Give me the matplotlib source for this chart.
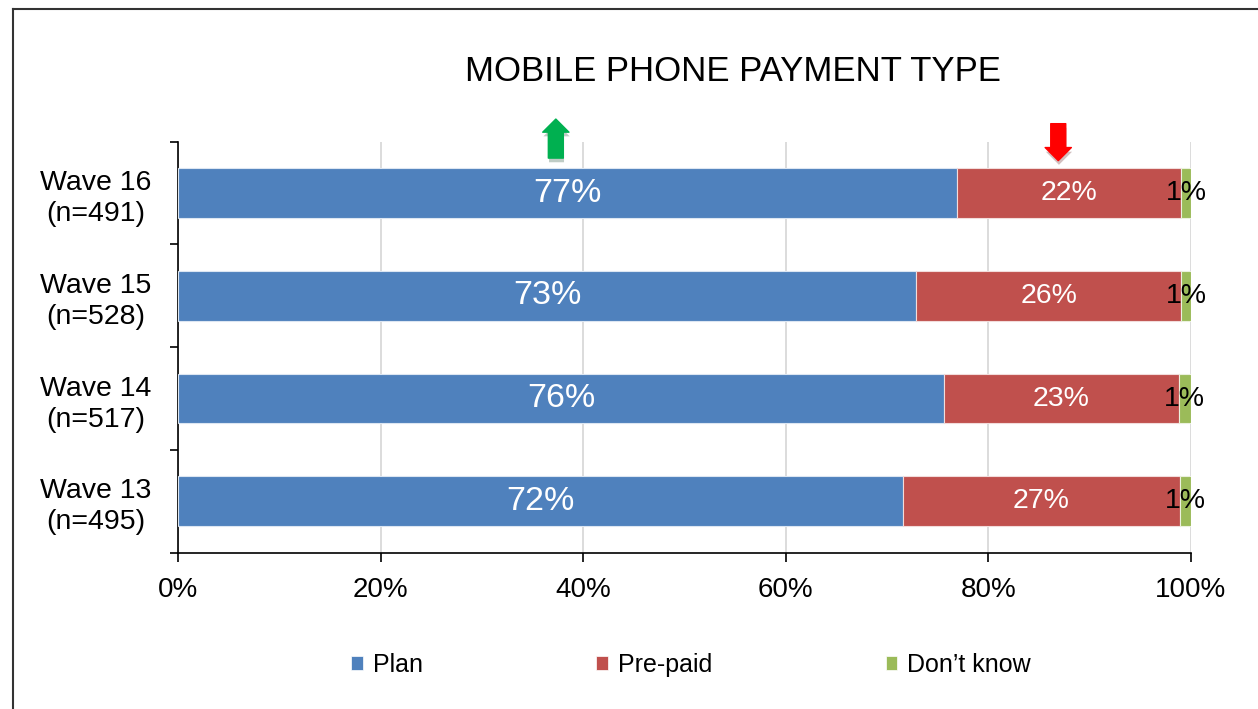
import matplotlib
matplotlib.use("Agg")
import matplotlib.pyplot as plt
import matplotlib.patheffects as pe
from matplotlib.lines import Line2D
from matplotlib.patches import Patch

plt.rcParams['font.family'] = ['Liberation Sans', 'DejaVu Sans']

# data, bottom row first
waves = ["Wave 13\n(n=495)", "Wave 14\n(n=517)", "Wave 15\n(n=528)", "Wave 16\n(n=491)"]
plan = [71.6, 75.6, 72.9, 76.9]
prepaid = [27.3, 23.2, 26.1, 22.1]
dont_know = [1.1, 1.2, 1.0, 1.0]
series_names = ["Plan", "Pre-paid", "Don\u2019t know"]
colors = ["#4F81BD", "#C0504D", "#9BBB59"]
xticks = [0, 20, 40, 60, 80, 100]

fig = plt.figure(figsize=(12.58, 7.09), dpi=100)
ax = fig.add_axes([0.1415, 0.2205, 0.8052, 0.5797])

ypos = list(range(len(waves)))
left_pre = plan
left_dk = [p + q for p, q in zip(plan, prepaid)]

ax.barh(ypos, plan, height=0.485, color=colors[0], edgecolor="#dce6f2", lw=0.8, zorder=3)
ax.barh(ypos, prepaid, left=left_pre, height=0.485, color=colors[1], edgecolor="#f2dcdb", lw=0.8, zorder=3)
ax.barh(ypos, dont_know, left=left_dk, height=0.485, color=colors[2], edgecolor="#ebf1de", lw=0.8, zorder=3)

# data labels
for i in ypos:
    ax.text(plan[i] / 2, i, "%d%%" % round(plan[i]), color="white", fontsize=24.5,
            ha="center", va="center", zorder=5)
    ax.text(left_pre[i] + prepaid[i] / 2, i, "%d%%" % round(prepaid[i]), color="white",
            fontsize=20.5, ha="center", va="center", zorder=5)
    ax.text(left_dk[i] + dont_know[i] / 2, i, "%d%%" % round(dont_know[i]), color="black",
            fontsize=20.5, ha="center", va="center", zorder=5)

ax.set_xlim(0, 100)
ax.set_ylim(-0.5, 3.5)
ax.set_xticks(xticks)
ax.set_xticklabels(["%d%%" % t for t in xticks], fontsize=20)
ax.tick_params(axis="x", direction="out", length=6.5, width=1.2, pad=11)

# category ticks sit between bars, labels in the middle
ax.set_yticks([-0.5, 0.5, 1.5, 2.5, 3.5])
ax.set_yticklabels([])
ax.set_yticks(ypos, minor=True)
ax.set_yticklabels(waves, minor=True, fontsize=20.5, linespacing=1.25)
ax.tick_params(axis="y", which="major", direction="out", length=6, width=1.2)
ax.tick_params(axis="y", which="minor", length=0, pad=19)
for lab in ax.get_yticklabels(minor=True):
    lab.set_multialignment("center")

ax.grid(axis="x", color="#d9d9d9", lw=1.3, zorder=0)
ax.set_axisbelow(True)
for s in ["top", "right"]:
    ax.spines[s].set_visible(False)
ax.spines["left"].set_linewidth(1.2)
ax.spines["bottom"].set_linewidth(1.2)

# change arrows
shadow = [pe.SimplePatchShadow(offset=(0.5, -3), alpha=0.25), pe.Normal()]
arr_style = "simple,head_length=0.7,head_width=1.4,tail_width=0.8"
a1 = ax.annotate("", xy=(37.3, 3.72), xytext=(37.3, 3.34), annotation_clip=False,
                 arrowprops=dict(arrowstyle=arr_style, color="#00B050", mutation_scale=13.5,
                                 shrinkA=0, shrinkB=0))
a1.arrow_patch.set_path_effects(shadow)
a2 = ax.annotate("", xy=(86.9, 3.315), xytext=(86.9, 3.675), annotation_clip=False,
                 arrowprops=dict(arrowstyle=arr_style, color="#FF0000", mutation_scale=13.5,
                                 shrinkA=0, shrinkB=0))
a2.arrow_patch.set_path_effects(shadow)

fig.text(0.583, 1 - 81 / 709, "MOBILE PHONE PAYMENT TYPE", fontsize=25, ha="center", va="baseline")

handles = [Patch(facecolor=c, edgecolor="white", lw=0.5) for c in colors]
fig.legend(handles, series_names, loc="center", bbox_to_anchor=(691 / 1258, 1 - 665 / 709),
           ncol=3, frameon=False, fontsize=18, handlelength=0.45, handleheight=0.45,
           handletextpad=0.4, columnspacing=6.95)

# outer frame (left and top edges show)
fig.add_artist(Line2D([13 / 1258, 13 / 1258], [0, 1 - 9 / 709], color="#333333", lw=1.5))
fig.add_artist(Line2D([13 / 1258, 1], [1 - 9 / 709, 1 - 9 / 709], color="#333333", lw=1.5))

fig.savefig("out.png", dpi=100)
